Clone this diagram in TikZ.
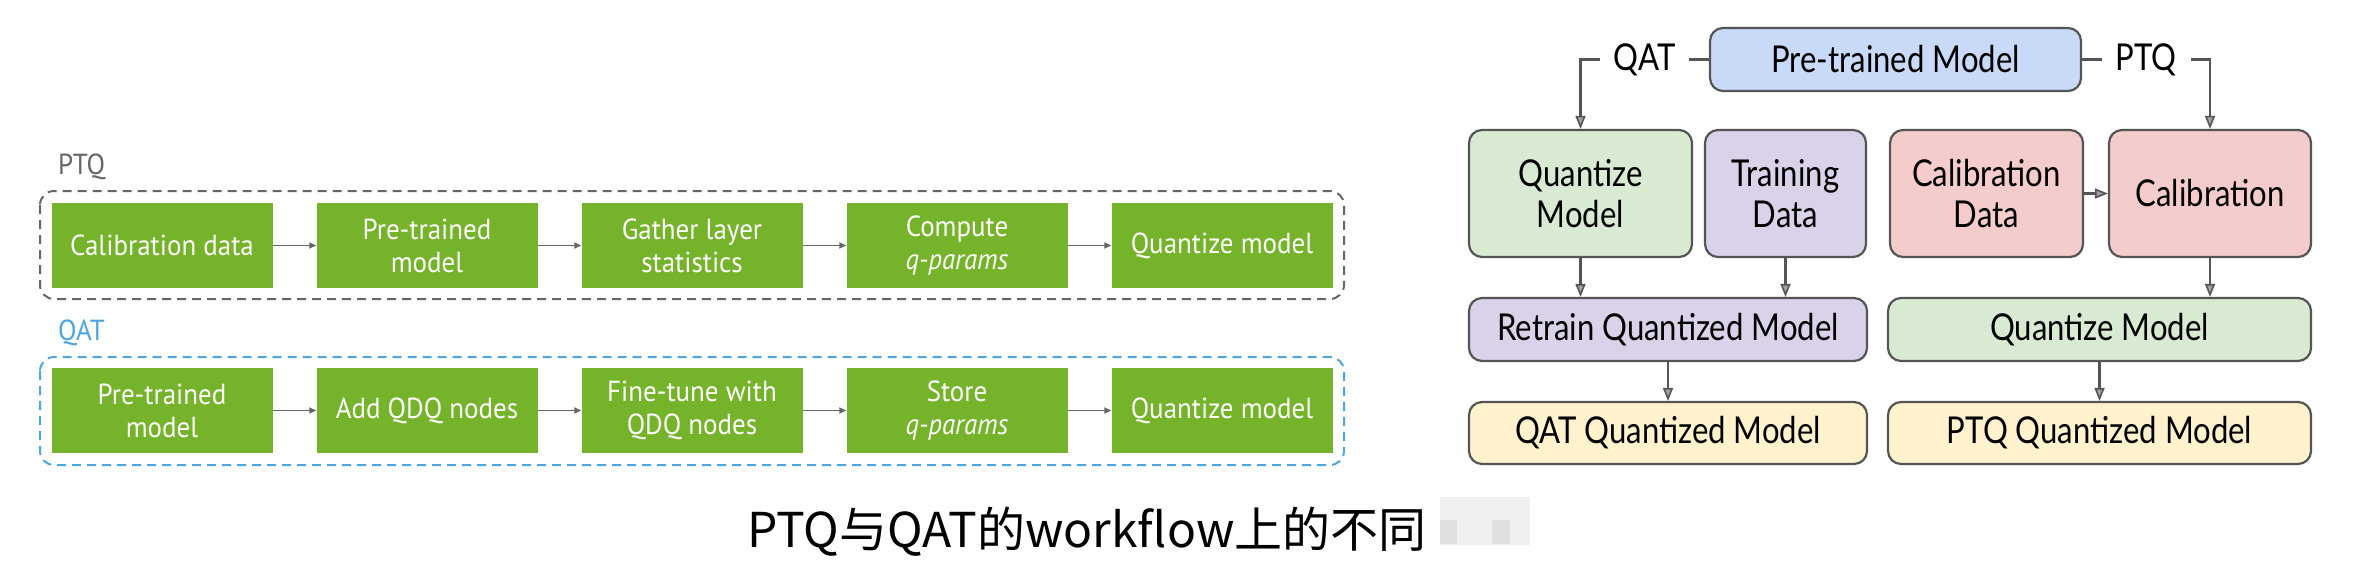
\documentclass[tikz,border=0pt]{standalone}
\usepackage{fontspec}
\usetikzlibrary{arrows.meta,positioning,calc}
\newfontfamily\nvfont[FakeStretch=0.93]{PT Sans}
\newfontfamily\gillfont[FakeStretch=0.84]{Lato}
\newfontfamily\cjkfont{Noto Sans CJK SC}
\definecolor{nvgreen}{HTML}{74B32A}
\definecolor{qatblue}{HTML}{4DA6E0}
\definecolor{dashgray}{HTML}{666666}
\definecolor{bdgray}{HTML}{555555}
\definecolor{cblue}{HTML}{C9DAF8}
\definecolor{cgreen}{HTML}{D9EAD3}
\definecolor{cpurple}{HTML}{D9D2E9}
\definecolor{cred}{HTML}{F4CCCC}
\definecolor{cyellow}{HTML}{FFF2CC}
\tikzset{
  gbox/.style={fill=nvgreen, draw=none, minimum width=221, minimum height=85, inner sep=0, align=center, text=white, font=\nvfont\fontsize{29}{33}\selectfont},
  garr/.style={draw=dashgray, line width=1.6, -{Triangle[length=7,width=6]}},
  dbox/.style={dashed, dash pattern=on 9 off 6, line width=2, rounded corners=14},
  seclabel/.style={anchor=west, inner sep=0, font=\nvfont\fontsize{29}{33}\selectfont},
  rfont/.style={font=\gillfont\fontsize{37}{41}\selectfont},
  rbox/.style={draw=bdgray, line width=2.2, rounded corners=13, inner sep=0, align=center, rfont},
  rarr/.style={draw=bdgray, line width=2.2, -{Triangle[length=13,width=10,line width=1.6,fill=bdgray!55]}},
}
\begin{document}
\begin{tikzpicture}[x=1pt,y=-1pt]
\useasboundingbox (0,0) rectangle (2357,583);
\fill[white] (0,0) rectangle (2357,583);
% ---------- left part ----------
\node[seclabel, text=dashgray] (ptqlab) at (58,167) {PTQ};
\draw[dbox, draw=dashgray] (40,191) rectangle (1344,299);
\node[seclabel, text=qatblue] (qatlab) at (58,333) {QAT};
\draw[dbox, draw=qatblue] (40,357) rectangle (1344,465);

\node[gbox] (p1) at (162,245.5) {Calibration data};
\node[gbox] (p2) at (427,245.5) {Pre-trained\\model};
\node[gbox] (p3) at (692,245.5) {Gather layer\\statistics};
\node[gbox] (p4) at (957,245.5) {Compute\\\itshape q-params};
\node[gbox] (p5) at (1222,245.5) {Quantize model};
\draw[garr] (p1) -- (p2);
\draw[garr] (p2) -- (p3);
\draw[garr] (p3) -- (p4);
\draw[garr] (p4) -- (p5);

\node[gbox] (q1) at (162,410.5) {Pre-trained\\model};
\node[gbox] (q2) at (427,410.5) {Add QDQ nodes};
\node[gbox] (q3) at (692,410.5) {Fine-tune with\\QDQ nodes};
\node[gbox] (q4) at (957,410.5) {Store\\\itshape q-params};
\node[gbox] (q5) at (1222,410.5) {Quantize model};
\draw[garr] (q1) -- (q2);
\draw[garr] (q2) -- (q3);
\draw[garr] (q3) -- (q4);
\draw[garr] (q4) -- (q5);

% ---------- right part ----------
\node[rbox, fill=cblue, minimum width=371, minimum height=63] (pm) at (1895.5,59.5) {Pre-trained Model};
\node[rbox, fill=cgreen, minimum width=223, minimum height=127] (qmA) at (1580.5,193.5) {Quantize\\Model};
\node[rbox, fill=cpurple, minimum width=161, minimum height=127] (td) at (1785.5,193.5) {Training\\Data};
\node[rbox, fill=cred, minimum width=193, minimum height=127] (cd) at (1986.5,193.5) {Calibration\\Data};
\node[rbox, fill=cred, minimum width=202, minimum height=127] (cal) at (2210,193.5) {Calibration};
\node[rbox, fill=cpurple, minimum width=398, minimum height=63] (rqm) at (1668,329.5) {Retrain Quantized Model};
\node[rbox, fill=cgreen, minimum width=423, minimum height=63] (qmB) at (2099.5,329.5) {Quantize Model};
\node[rbox, fill=cyellow, minimum width=398, minimum height=62] (qatqm) at (1668,433) {QAT Quantized Model};
\node[rbox, fill=cyellow, minimum width=423, minimum height=62] (ptqqm) at (2099.5,433) {PTQ Quantized Model};

\draw[rarr] (pm.west) -| node[pos=0.25, fill=white, inner xsep=14, inner ysep=2, rfont] (qatl) {QAT} (qmA.north);
\draw[rarr] (pm.east) -| node[pos=0.25, fill=white, inner xsep=14, inner ysep=2, rfont] (ptql) {PTQ} (cal.north);
\draw[rarr] (cd.east) -- (cal.west);
\draw[rarr] (qmA.south) -- (qmA.south |- rqm.north);
\draw[rarr] (td.south) -- (td.south |- rqm.north);
\draw[rarr] (cal.south) -- (cal.south |- qmB.north);
\draw[rarr] (rqm.south) -- (qatqm.north);
\draw[rarr] (qmB.south) -- (ptqqm.north);

% ---------- caption ----------
\node[anchor=west, inner sep=0, font=\cjkfont\fontsize{48}{54}\selectfont] (cap) at (747,532) {PTQ与QAT的workflow上的不同};
\fill[black!6] (1440,497) rectangle (1530,545);
\fill[black!12] (1440,520) rectangle (1457,544);
\fill[black!12] (1492,520) rectangle (1510,544);
\end{tikzpicture}
\end{document}
